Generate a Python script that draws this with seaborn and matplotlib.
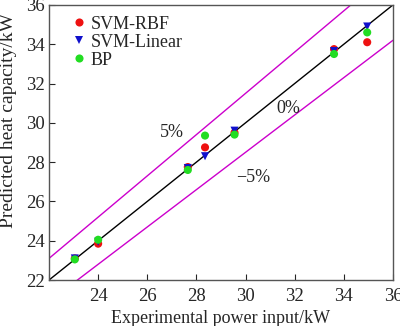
import numpy as np
import pandas as pd
import matplotlib
matplotlib.use("Agg")
import matplotlib.pyplot as plt
import seaborn as sns

# Measured power input (kW) for each test case
experimental = [23.05, 24.0, 27.65, 28.35, 29.55, 33.6, 34.95]
# Predicted heating capacity (kW) per model
svm_rbf = [23.1, 23.85, 27.75, 28.75, 29.5, 33.75, 34.1]
svm_linear = [23.1, 23.95, 27.7, 28.3, 29.6, 33.65, 34.9]
bp = [23.05, 24.05, 27.6, 29.35, 29.4, 33.5, 34.6]

models = ["SVM-RBF", "SVM-Linear", "BP"]
colors = {"SVM-RBF": "#ee1111", "SVM-Linear": "#1010cc", "BP": "#22dd22"}
markers = {"SVM-RBF": "o", "SVM-Linear": "v", "BP": "o"}

ticks = [22, 24, 26, 28, 30, 32, 34, 36]
x_ticklabels = ["", "24", "26", "28", "30", "32", "34", "36"]
y_ticklabels = ["22", "24", "26", "28", "30", "32", "34", "36"]
band_labels = ["5%", "0%", "\u22125%"]
band_factors = [1.05, 1.0, 0.95]
band_text_pos = [(27.0, 29.5), (31.75, 30.75), (30.3, 27.2)]

rows = []
for name, vals in zip(models, [svm_rbf, svm_linear, bp]):
    for xv, yv in zip(experimental, vals):
        rows.append({"exp": xv, "pred": yv, "model": name})
df = pd.DataFrame(rows)

sns.set_style("white")
plt.rcParams["font.family"] = ["Liberation Serif", "DejaVu Serif"]

fig = plt.figure(figsize=(4.0, 3.26), dpi=100)
ax = fig.add_axes([0.1225, 0.141, 0.86, 0.844])

# reference lines: perfect prediction and +/-5% error band
xs = np.array([22, 36])
line_df = pd.DataFrame({"x": np.concatenate([xs, xs, xs]),
                        "y": np.concatenate([xs * f for f in band_factors]),
                        "band": np.repeat(band_labels, 2)})
sns.lineplot(data=line_df, x="x", y="y", hue="band",
             palette={"5%": "#cc00cc", "0%": "black", "\u22125%": "#cc00cc"},
             lw=1.0, legend=False, ax=ax, estimator=None, sort=False)

sns.scatterplot(data=df, x="exp", y="pred", hue="model", style="model",
                palette=colors, markers=markers, s=34, linewidth=0,
                ax=ax, zorder=3)

for lab, (tx, ty) in zip(band_labels, band_text_pos):
    ax.text(tx, ty, lab, fontsize=13, ha="center", va="center")

ax.set_xlim(22, 36)
ax.set_ylim(22, 36)
ax.set_xticks(ticks)
ax.set_xticklabels(x_ticklabels)
ax.set_yticks(ticks)
ax.set_yticklabels(y_ticklabels)
ax.tick_params(direction="in", length=4, labelsize=13.5, width=0.8,
               bottom=True, left=True, top=False, right=False)
ax.tick_params(axis="x", pad=6)
ax.tick_params(axis="y", pad=3)
for sp in ax.spines.values():
    sp.set_color("#555555")
    sp.set_linewidth(1.0)
ax.set_xlabel("Experimental power input/kW", fontsize=13, labelpad=3)
ax.set_ylabel("Predicted heat capacity/kW", fontsize=14)
ax.yaxis.set_label_coords(-0.092, 0.58)

leg = ax.legend(loc="upper left", bbox_to_anchor=(0.03, 1.0), frameon=False,
                fontsize=13, handletextpad=0.15, borderaxespad=0.2,
                labelspacing=0.05, handlelength=1.0, borderpad=0.4)

fig.savefig("out.png", dpi=100)
